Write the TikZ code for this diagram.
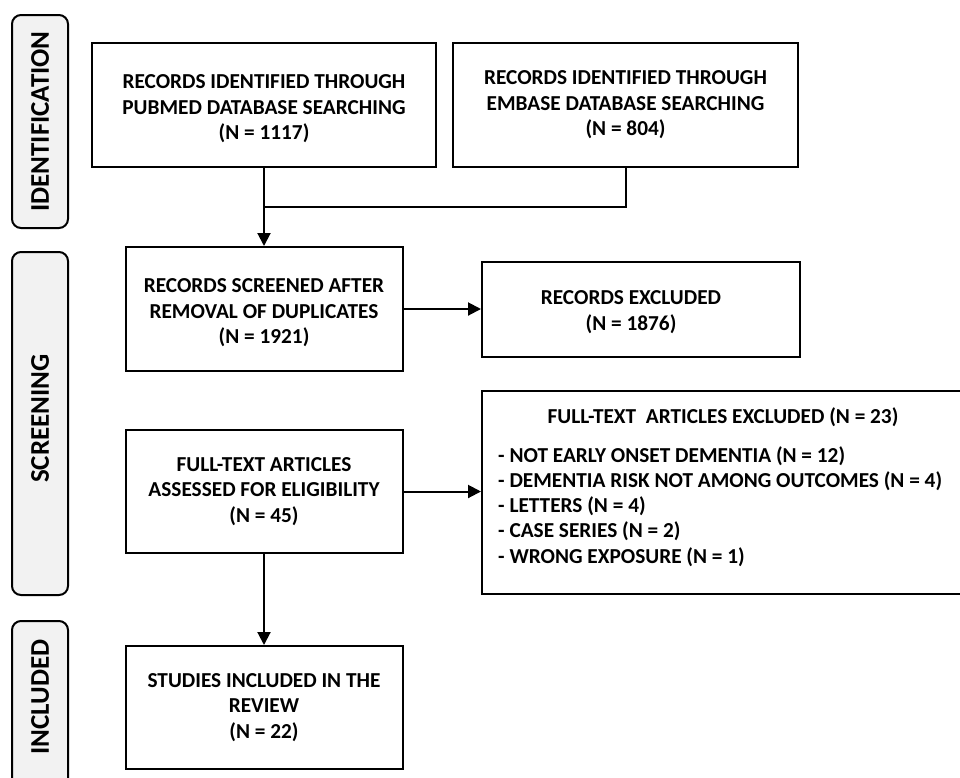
\documentclass[tikz,border=0pt]{standalone}
\usepackage{fontspec}
\setmainfont{Carlito}
\usetikzlibrary{arrows.meta}
\definecolor{sidegray}{HTML}{F2F2F2}
\newcommand{\lowstrut}{\rule{0pt}{22pt}}
\tikzset{
  txt/.style={font=\bfseries\fontsize{21.3}{25.5}\selectfont},
  box/.style={draw=black, line width=2pt, fill=white, align=center, inner sep=0pt, txt},
  side/.style={draw=black, line width=2pt, fill=sidegray, rounded corners=9pt},
  sidetext/.style={rotate=90, font=\bfseries\fontsize{27}{30}\selectfont},
  arr/.style={line width=2pt, -{Triangle[length=13pt,width=13pt]}},
  con/.style={line width=2pt}
}
\begin{document}
\begin{tikzpicture}[x=1pt,y=-1pt]
\useasboundingbox (0,0) rectangle (960,777);
\begin{scope}
\clip (0,0) rectangle (960,777);
% side labels
\draw[side] (12,15) rectangle (68,228);
\node[sidetext] (sid) at (40,121.5) {IDENTIFICATION};
\draw[side] (12,252) rectangle (68,595);
\node[sidetext] (sscr) at (40,418.5) {SCREENING};
\draw[side] (12,621) rectangle (68,800);
\node[sidetext] (sinc) at (40,697) {INCLUDED};
% main boxes
\node[box, minimum width=344pt, minimum height=124pt] (pubmed) at (264,105)
  {\lowstrut RECORDS IDENTIFIED THROUGH\\PUBMED DATABASE SEARCHING\\(N = 1117)};
\node[box, minimum width=345pt, minimum height=124pt] (embase) at (625.5,105)
  {RECORDS IDENTIFIED THROUGH\\EMBASE DATABASE SEARCHING\\(N = 804)};
\node[box, minimum width=277pt, minimum height=124pt] (screened) at (264,309)
  {\lowstrut RECORDS SCREENED AFTER\\REMOVAL OF DUPLICATES\\(N = 1921)};
\node[box, minimum width=318pt, minimum height=95pt] (excl) at (641,309) {};
\node[txt, align=center] (excltext) at (631,312)
  {RECORDS EXCLUDED\\(N = 1876)};
\node[box, minimum width=277pt, minimum height=123pt] (assessed) at (264,491.5)
  {FULL-TEXT ARTICLES\\ASSESSED FOR ELIGIBILITY\\(N = 45)};
\node[box, minimum width=484pt, minimum height=203pt] (ftex) at (724,492.5) {};
\node[txt, anchor=base, inner sep=0pt] (fttitle) at (723,423)
  {FULL-TEXT\ \ ARTICLES EXCLUDED (N = 23)};
\node[txt, anchor=base west, inner sep=0pt] (ft1) at (498,462) {- NOT EARLY ONSET DEMENTIA (N = 12)};
\node[txt, anchor=base west, inner sep=0pt] (ft2) at (498,487.3) {- DEMENTIA RISK NOT AMONG OUTCOMES (N = 4)};
\node[txt, anchor=base west, inner sep=0pt] (ft3) at (498,512.6) {- LETTERS (N = 4)};
\node[txt, anchor=base west, inner sep=0pt] (ft4) at (498,537.9) {- CASE SERIES (N = 2)};
\node[txt, anchor=base west, inner sep=0pt] (ft5) at (498,563.2) {- WRONG EXPOSURE (N = 1)};
\node[box, minimum width=277pt, minimum height=123pt] (studies) at (264,707.5)
  {STUDIES INCLUDED IN THE\\REVIEW\\(N = 22)};
% connectors
\coordinate (j) at (264,207);
\draw[con] (embase.south) |- (j);
\draw[arr] (pubmed.south) -- (screened.north);
\draw[arr] (screened.east) -- (screened.east -| excl.west);
\draw[arr] (assessed.east) -- (assessed.east -| ftex.west);
\draw[arr] (assessed.south) -- (studies.north);
\end{scope}
\end{tikzpicture}
\end{document}
